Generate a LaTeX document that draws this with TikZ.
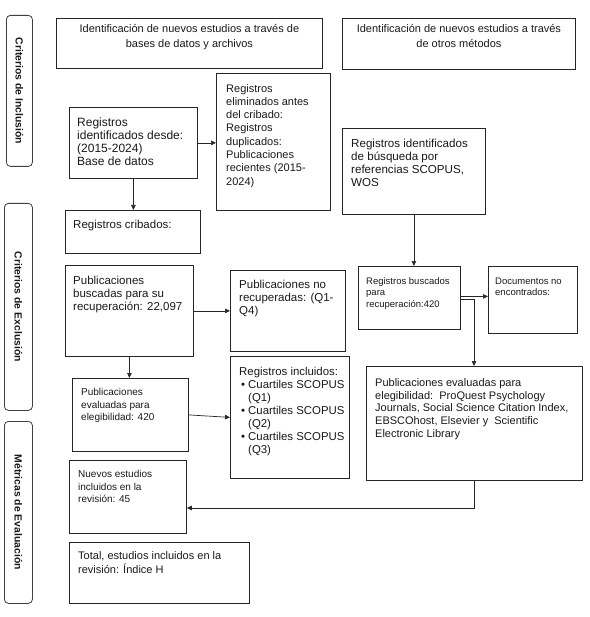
\documentclass[tikz,border=0pt]{standalone}
\usepackage{fontspec}
\setmainfont{Liberation Sans}
\usetikzlibrary{arrows.meta}
\tikzset{
  box/.style={draw=black!85, line width=0.8pt, inner sep=0pt, anchor=north west},
  side/.style={draw=black!75, line width=0.8pt, rounded corners=4pt, inner sep=0pt, anchor=north west},
  sidetxt/.style={rotate=-90, inner sep=0pt, font=\fontsize{10.4}{12}\selectfont\bfseries, text=black!90},
  txt/.style={anchor=north west, inner sep=0pt, align=left, text=black!90, font=\fontsize{11.5}{13.4}\selectfont},
  smalltxt/.style={txt, font=\fontsize{10}{12.5}\selectfont},
  tinytxt/.style={txt, font=\fontsize{9.5}{11.2}\selectfont},
  hdr/.style={anchor=north, inner sep=0pt, align=center, text=black!90, font=\fontsize{11}{15}\selectfont},
  conn/.style={line width=0.7pt, draw=black!85},
  arr/.style={conn, -{Triangle[length=5pt,width=4.5pt]}}
}
\begin{document}
\begin{tikzpicture}[x=1pt,y=-1pt]
\useasboundingbox (0,0) rectangle (589,617);
% side bars
\node[side, minimum width=26pt, minimum height=151pt] (s1) at (6,15) {};
\node[sidetxt] at (s1.center) {Criterios de Inclusión};
\node[side, minimum width=28pt, minimum height=207pt] (s2) at (4,203) {};
\node[sidetxt] at (s2.center) {Criterios de Exclusión};
\node[side, minimum width=28pt, minimum height=182pt] (s3) at (4,421) {};
\node[sidetxt] at (s3.center) {Métricas de Evaluación};
% headers
\node[box, minimum width=266pt, minimum height=50pt] (h1) at (56,18) {};
\node[hdr] at ([yshift=-3.5pt]h1.north) {\strut Identificación de nuevos estudios a través de\\bases de datos y archivos};
\node[box, minimum width=233pt, minimum height=51pt] (h2) at (342,18) {};
\node[hdr] at ([yshift=-3.5pt]h2.north) {\strut Identificación de nuevos estudios a través\\de otros métodos};
% left column
\node[box, minimum width=128pt, minimum height=71pt] (idb) at (69,107) {};
\node[txt, font=\fontsize{12}{12.8}\selectfont] at ([shift={(8,10.5)}]idb.north west) {\strut Registros\\identificados desde:\\(2015-2024)\\Base de datos};
\node[box, minimum width=114pt, minimum height=137pt] (elim) at (216,73) {};
\node[txt, font=\fontsize{11}{13.3}\selectfont] at ([shift={(10,9.5)}]elim.north west) {\strut Registros\\eliminados antes\\del cribado:\\Registros\\duplicados:\\Publicaciones\\recientes (2015-\\2024)};
\node[box, minimum width=135pt, minimum height=43pt] (crib) at (65,210) {};
\node[txt] at ([shift={(8,8.5)}]crib.north west) {\strut Registros cribados:};
\node[box, minimum width=128pt, minimum height=91pt] (busc) at (65,265) {};
\node[txt] at ([shift={(8,9.5)}]busc.north west) {\strut Publicaciones\\buscadas para su\\recuperación: 22,097};
\node[box, minimum width=115pt, minimum height=81pt] (norec) at (230,270) {};
\node[txt] at ([shift={(9,8.5)}]norec.north west) {\strut Publicaciones no\\recuperadas: (Q1-\\Q4)};
\node[box, minimum width=116pt, minimum height=73pt] (ev) at (72,378) {};
\node[smalltxt] at ([shift={(9,8.8)}]ev.north west) {\strut Publicaciones\\evaluadas para\\elegibilidad: 420};
\node[box, minimum width=119pt, minimum height=122pt] (incl) at (230,356) {};
\node[txt, font=\fontsize{11.4}{13}\selectfont] at ([shift={(9,10.5)}]incl.north west) {\strut Registros incluidos:\\
\hspace{2pt}\makebox[7pt][l]{•}Cuartiles SCOPUS\\\hspace{9pt}(Q1)\\
\hspace{2pt}\makebox[7pt][l]{•}Cuartiles SCOPUS\\\hspace{9pt}(Q2)\\
\hspace{2pt}\makebox[7pt][l]{•}Cuartiles SCOPUS\\\hspace{9pt}(Q3)};
\node[box, minimum width=117pt, minimum height=73pt] (nuevos) at (69,460) {};
\node[smalltxt] at ([shift={(9,8.8)}]nuevos.north west) {\strut Nuevos estudios\\incluidos en la\\revisión: 45};
\node[box, minimum width=180pt, minimum height=61pt] (total) at (69,542) {};
\node[txt, font=\fontsize{11}{14.5}\selectfont] at ([shift={(9,6.8)}]total.north west) {\strut Total, estudios incluidos en la\\revisión: Índice H};
% right column
\node[box, minimum width=143pt, minimum height=86pt] (ref) at (342,128) {};
\node[txt, font=\fontsize{11.6}{13.3}\selectfont] at ([shift={(9,9.5)}]ref.north west) {\strut Registros identificados\\de búsqueda por\\referencias SCOPUS,\\WOS};
\node[box, minimum width=102pt, minimum height=63pt] (brec) at (358,266) {};
\node[tinytxt] at ([shift={(8,10.7)}]brec.north west) {\strut Registros buscados\\para\\recuperación:420};
\node[box, minimum width=89pt, minimum height=67pt] (docs) at (488,266) {};
\node[tinytxt] at ([shift={(7,10.7)}]docs.north west) {\strut Documentos no\\encontrados:};
\node[box, minimum width=216pt, minimum height=114pt] (evf) at (366,366) {};
\node[txt, font=\fontsize{11}{12.9}\selectfont] at ([shift={(9,10.9)}]evf.north west) {\strut Publicaciones evaluadas para\\elegibilidad:\ \ ProQuest Psychology\\Journals, Social Science Citation Index,\\EBSCOhost, Elsevier y\ \ Scientific\\Electronic Library};
% connectors
\draw[arr] (idb.east) -- (idb.east -| elim.west);
\draw[arr] (idb.south) -- (idb.south |- crib.north);
\draw[arr] (busc.east) -- (busc.east -| norec.west);
\draw[arr] (busc.south) -- (busc.south |- ev.north);
\draw[arr] (ev.east) -- (incl.west);
\draw[arr] (ref.south) -- (ref.south |- brec.north);
\coordinate (hook) at ([yshift=-1.5pt]brec.east -| 474,0);
\draw[arr] ([yshift=1.5pt]brec.east) -- ([yshift=1.5pt]brec.east -| docs.west);
\draw[arr] ([yshift=-1.5pt]brec.east) -- (hook) -- (hook |- evf.north);
\coordinate (bend) at (474,508);
\draw[arr] (evf.south -| bend) -- (bend) -- (bend -| nuevos.east);
\end{tikzpicture}
\end{document}
